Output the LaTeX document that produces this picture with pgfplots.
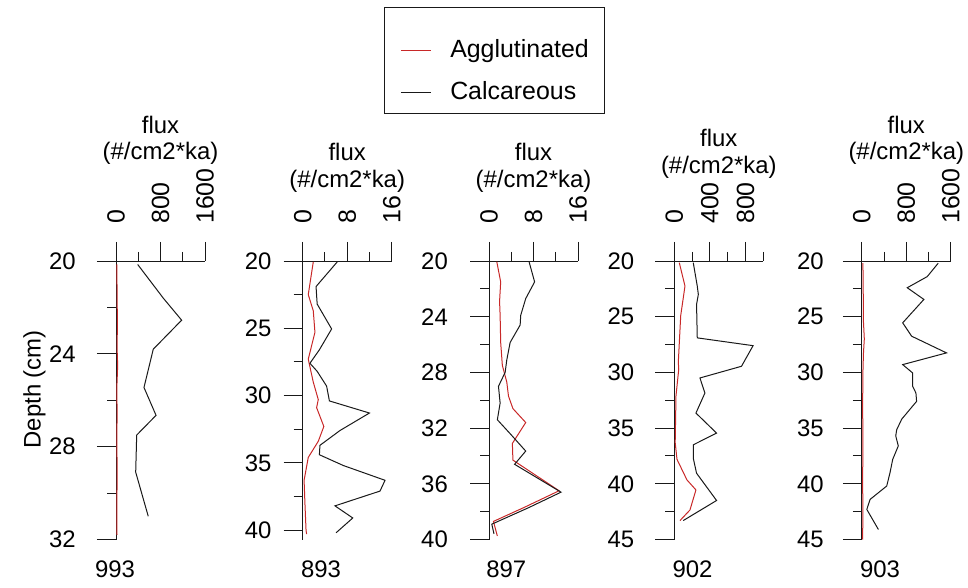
\documentclass[border=0pt]{standalone}
\usepackage{pgfplots}
\pgfplotsset{compat=1.18}
\usepackage{fontspec}
\setmainfont{Liberation Sans}
\definecolor{agg}{RGB}{200,40,40}
\definecolor{calc}{RGB}{25,25,25}
\newcommand{\fnt}{\fontsize{24}{27}\selectfont}
\pgfplotsset{
  panel/.style={
    scale only axis, width=89bp, height=278.5bp,
    anchor=center,
    y dir=reverse,
    axis x line*=top, axis y line*=left,
    axis line style={line width=1bp, color=calc},
    tick align=outside,
    major tick length=19bp, minor tick length=9bp,
    tick style={line width=1bp, color=calc},
    /pgf/number format/assume math mode=true,
    /pgf/number format/1000 sep={},
    tick label style={font=\fnt, inner sep=0pt},
    xticklabel style={rotate=90, anchor=west, font=\fontsize{25}{28}\selectfont},
    xticklabel shift=18bp,
    xlabel={flux\\(\#/cm2*ka)},
    xlabel style={align=center, font=\fnt},
    ylabel style={font=\fnt},
    enlargelimits=false,
    clip=false,
    every axis plot/.append style={line width=1bp},
  },
}
\begin{document}
\begin{tikzpicture}
\useasboundingbox (0,0) rectangle (968bp,588bp);

% ---------- 993 ----------
\begin{axis}[panel, at={(160.5bp,187.75bp)},
  xmin=0, xmax=1600, xtick={0,800,1600}, minor xtick={400,1200},
  ymin=20, ymax=32, ytick={20,24,28,32}, minor ytick={22,26,30},
  yticklabel shift=21bp,
  ylabel={Depth (cm)}, ylabel style={at={(ticklabel cs:0.55)}, xshift=-3bp}]
\addplot[agg] coordinates {(15,20.15) (20,21.6) (25,22.55) (20,23.8) (30,24.5) (15,25.45) (20,26.65) (15,27.5) (20,29.1) (15,31.0) (18,31.8)};
\addplot[calc] coordinates {(390,20.15) (850,21.6) (1180,22.55) (670,23.8) (503,25.45) (720,26.65) (372,27.5) (354,29.1) (580,31.0)};
\node[font=\fnt] at (axis cs:-18,32) [yshift=-29.5bp] {993};
\end{axis}

% ---------- 893 ----------
\begin{axis}[panel, at={(347.2bp,187.75bp)},
  xmin=0, xmax=16, xtick={0,8,16}, minor xtick={4,12},
  ymin=20, ymax=40.7, ytick={20,25,30,35,40}, minor ytick={22.5,27.5,32.5,37.5},
  yticklabel shift=12bp]
\addplot[agg] coordinates {(1.9,20.07) (1.0,22.5) (1.9,23.7) (2.2,25.3) (1.0,27.3) (1.9,29.0) (2.8,30.3) (2.5,30.9) (3.8,32.3) (2.8,33.4) (1.0,34.6) (0.25,36.3) (0.4,38) (0.6,40.0) (0.7,40.3)};
\addplot[calc] coordinates {(6.2,20.07) (2.4,21.9) (2.6,23.2) (5.2,25.05) (3.0,26.6) (1.3,27.6) (2.6,28.2) (4.3,29.3) (4.8,30.4) (12.0,31.3) (6.7,32.6) (3.1,33.7) (3.0,34.4) (7.3,35.2) (14.8,36.3) (13.9,37.1) (5.8,38.2) (9.0,39.1) (6.0,40.2)};
\node[font=\fnt] at (axis cs:3.3,40.7) [yshift=-29.5bp] {893};
\end{axis}

% ---------- 897 ----------
\begin{axis}[panel, at={(533.5bp,187.75bp)},
  xmin=0, xmax=16, xtick={0,8,16}, minor xtick={4,12},
  ymin=20, ymax=40, ytick={20,24,28,32,36,40}, minor ytick={22,26,30,34,38},
  yticklabel shift=22bp]
\addplot[agg] coordinates {(1.4,20.05) (2.1,21.5) (1.9,22.9) (2.0,23.9) (2.1,25.85) (2.4,27.5) (3.2,28.7) (3.5,29.7) (4.3,30.6) (6.6,31.6) (4.2,33.1) (4.3,34.3) (12.6,36.5) (6.3,37.7) (0.8,38.7) (1.5,39.75)};
\addplot[calc] coordinates {(7.2,20.05) (8.2,21.5) (6.6,22.7) (5.7,23.9) (5.6,24.6) (3.8,25.85) (3.2,27.1) (2.9,28.0) (1.7,29.0) (2.0,30.2) (1.5,31.4) (3.8,32.4) (6.6,33.65) (4.6,34.6) (12.95,36.6) (7.2,37.7) (0.5,38.9) (0.9,39.6)};
\node[font=\fnt] at (axis cs:3.1,40) [yshift=-29.5bp] {897};
\end{axis}

% ---------- 902 ----------
\begin{axis}[panel, at={(718.8bp,187.75bp)},
  xmin=0, xmax=1000, xtick={0,400,800}, minor xtick={200,600,1000},
  ymin=20, ymax=45, ytick={20,25,30,35,40,45}, minor ytick={22.5,27.5,32.5,37.5,42.5},
  yticklabel shift=21bp]
\addplot[agg] coordinates {(56,20.15) (120,22.25) (72,24.9) (45,29.1) (50,29.7) (19,32.1) (10,36.3) (30,37.8) (142,39.65) (243,40.55) (176,42.35) (64,43.3)};
\addplot[calc] coordinates {(213,20.15) (258,22.25) (270,23.0) (250,23.9) (258,26.9) (885,27.6) (755,29.45) (288,30.5) (344,31.85) (243,33.65) (475,35.45) (213,36.5) (213,37.7) (250,39.05) (475,41.5) (100,43.3)};
\node[font=\fnt] at (axis cs:205,45) [yshift=-29.5bp] {902};
\end{axis}

% ---------- 903 ----------
\begin{axis}[panel, at={(906.3bp,187.75bp)},
  xmin=0, xmax=1600, xtick={0,800,1600}, minor xtick={400,1200},
  ymin=20, ymax=45, ytick={20,25,30,35,40,45}, minor ytick={22.5,27.5,32.5,37.5,42.5},
  yticklabel shift=19bp]
\addplot[agg] coordinates {(20,20.2) (25,22.4) (30,25.5) (45,27.0) (30,28.25) (20,30) (15,33) (20,36) (15,40) (20,42.3) (15,45)};
\addplot[calc] coordinates {(1373,20.2) (1176,21.4) (817,22.4) (1116,23.45) (735,25.55) (896,26.75) (1523,28.25) (735,29.3) (914,30.05) (914,31.25) (973,31.85) (985,32.6) (717,34.2) (627,35.15) (610,35.7) (656,36.6) (556,37.8) (507,39.0) (448,40.2) (149,41.4) (90,42.3) (298,44.1)};
\node[font=\fnt] at (axis cs:328,45) [yshift=-29.5bp] {903};
\end{axis}

% ---------- legend ----------
\begin{axis}[at={(494.5bp,527bp)}, anchor=center, scale only axis,
  width=10bp, height=10bp, hide axis, xmin=0, xmax=1, ymin=0, ymax=1,
  legend image code/.code={\draw[#1, line width=1bp] (0bp,-11bp) -- (30bp,-11bp);},
  legend cell align=left,
  legend style={at={(0.5,0.5)}, anchor=center, draw=calc, line width=1bp,
    font=\fontsize{25}{28}\selectfont, inner xsep=16bp, inner ysep=8bp, row sep=-6bp,
    nodes={inner sep=0pt, text height=42bp, text depth=6bp},
    /tikz/every odd column/.append style={column sep=19bp}}]
\addlegendimage{agg}
\addlegendentry{Agglutinated}
\addlegendimage{calc}
\addlegendentry{Calcareous}
\end{axis}
\end{tikzpicture}
\end{document}
